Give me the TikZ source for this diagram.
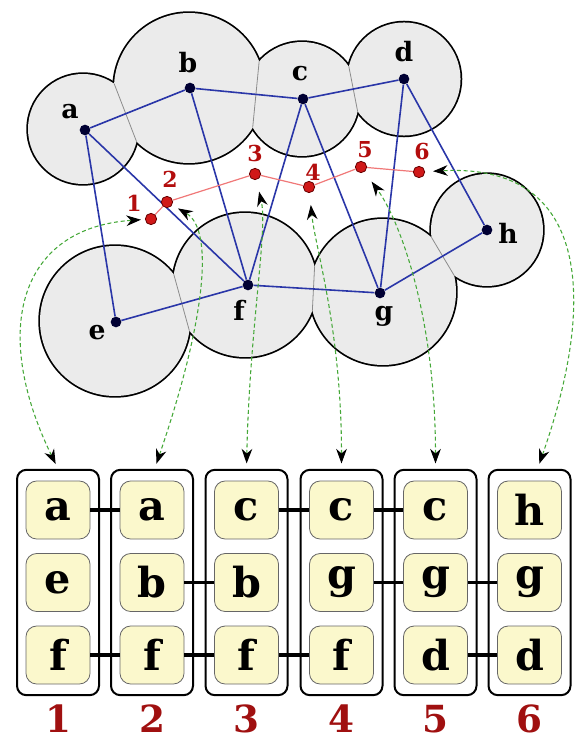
\documentclass[tikz,border=0pt]{standalone}
\usepackage{fontspec}
\setmainfont{DejaVu Serif}
\usetikzlibrary{arrows.meta,intersections}

\definecolor{diskfill}{HTML}{EBEBEB}
\definecolor{edgeblue}{HTML}{2A36A8}
\definecolor{bagred}{HTML}{D01818}
\definecolor{pathred}{HTML}{F07878}
\definecolor{numred}{HTML}{A01010}
\definecolor{linkgreen}{HTML}{45A838}
\definecolor{cellfill}{HTML}{FBF8CC}

\begin{document}
\begin{tikzpicture}[x=0.75pt,y=-0.75pt,
  >={Stealth[length=11pt,width=8pt,inset=3.5pt,color=black]},
  rim/.style={line width=2.6pt},
  disk/.style={fill=diskfill},
  seam/.style={draw=black!45,line width=0.6pt},
  vertex/.style={circle,fill=black!80!blue,inner sep=0,minimum size=8pt},
  bagpt/.style={circle,fill=bagred,draw=black!60!red,line width=0.6pt,inner sep=0,minimum size=8.5pt},
  vlabel/.style={font=\fontsize{20}{20}\selectfont\bfseries,inner sep=0},
  plabel/.style={font=\fontsize{16.5}{16.5}\selectfont\bfseries,text=numred!80!red,inner sep=0},
  gedge/.style={edgeblue,line width=1.2pt},
  tdpath/.style={pathred,line width=0.9pt},
  link/.style={linkgreen,dash pattern=on 3pt off 2pt,line width=0.8pt,<->},
  bag/.style={draw,line width=1.5pt,rounded corners=7pt,minimum width=61.5pt,minimum height=169pt,inner sep=0},
  cell/.style={draw=black!60,fill=cellfill,line width=0.6pt,rounded corners=8pt,minimum width=48pt,minimum height=43.5pt,inner sep=0,font=\fontsize{31}{31}\selectfont\bfseries},
  tie/.style={line width=2.6pt},
  bagnum/.style={font=\fontsize{28}{28}\selectfont\bfseries,text=numred,inner sep=0}
]
\useasboundingbox (0,0) rectangle (577,741);

% ---- disks: outer rims first, then the fills hide the inner halves
\draw[rim] (83,129) circle[radius=41.25pt];
\draw[rim] (189,88) circle[radius=56.25pt];
\draw[rim] (302,99) circle[radius=42.75pt];
\draw[rim] (404,79) circle[radius=42.4pt];
\draw[rim] (115,321) circle[radius=56.25pt];
\draw[rim] (245,285) circle[radius=54pt];
\draw[rim] (383,292) circle[radius=54.75pt];
\draw[rim] (487,230) circle[radius=42pt];

\fill[disk,name path=ca] (83,129) circle[radius=41.25pt];
\fill[disk,name path=cb] (189,88) circle[radius=56.25pt];
\fill[disk,name path=cc] (302,99) circle[radius=42.75pt];
\fill[disk,name path=cd] (404,79) circle[radius=42.4pt];
\fill[disk,name path=ce] (115,321) circle[radius=56.25pt];
\fill[disk,name path=cf] (245,285) circle[radius=54pt];
\fill[disk,name path=cg] (383,292) circle[radius=54.75pt];
\fill[disk,name path=ch] (487,230) circle[radius=42pt];

% seams where neighbouring disks meet
\path[name intersections={of=ca and cb,name=ab}]; \draw[seam] (ab-1) -- (ab-2);
\path[name intersections={of=cb and cc,name=bc}]; \draw[seam] (bc-1) -- (bc-2);
\path[name intersections={of=cc and cd,name=cd}]; \draw[seam] (cd-1) -- (cd-2);
\path[name intersections={of=ce and cf,name=ef}]; \draw[seam] (ef-1) -- (ef-2);
\path[name intersections={of=cf and cg,name=fg}]; \draw[seam] (fg-1) -- (fg-2);
\path[name intersections={of=cg and ch,name=gh}]; \draw[seam] (gh-1) -- (gh-2);

% ---- graph vertices
\node[vertex] (va) at (85,130) {};
\node[vertex] (vb) at (190,88) {};
\node[vertex] (vc) at (303,99) {};
\node[vertex] (vd) at (404,79) {};
\node[vertex] (ve) at (116,322) {};
\node[vertex] (vf) at (248,285) {};
\node[vertex] (vg) at (380,293) {};
\node[vertex] (vh) at (487,230) {};

\draw[gedge] (va) -- (vb);
\draw[gedge] (vb) -- (vc);
\draw[gedge] (vc) -- (vd);
\draw[gedge] (va) -- (ve);
\draw[gedge] (va) -- (vf);
\draw[gedge] (vb) -- (vf);
\draw[gedge] (vc) -- (vf);
\draw[gedge] (vc) -- (vg);
\draw[gedge] (vd) -- (vg);
\draw[gedge] (vd) -- (vh);
\draw[gedge] (ve) -- (vf);
\draw[gedge] (vf) -- (vg);
\draw[gedge] (vg) -- (vh);

\node[vlabel] (la) at (70,112) {a};
\node[vlabel] (lb) at (188,63) {b};
\node[vlabel] (lc) at (300,74) {c};
\node[vlabel] (ld) at (404,52) {d};
\node[vlabel] (le) at (97,333) {e};
\node[vlabel] (lf) at (239,310) {f};
\node[vlabel] (lg) at (384,316) {g};
\node[vlabel] (lh) at (508,233) {h};

% ---- decomposition path between the disks
\node[bagpt] (p1) at (151,219) {};
\node[bagpt] (p2) at (167,202) {};
\node[bagpt] (p3) at (255,174) {};
\node[bagpt] (p4) at (309,187) {};
\node[bagpt] (p5) at (361,167) {};
\node[bagpt] (p6) at (419,172) {};
\draw[tdpath] (p1) -- (p2) -- (p3) -- (p4) -- (p5) -- (p6);

\node[plabel] (q1) at (134,203) {1};
\node[plabel] (q2) at (170,179) {2};
\node[plabel] (q3) at (255,153) {3};
\node[plabel] (q4) at (313,172) {4};
\node[plabel] (q5) at (365,150) {5};
\node[plabel] (q6) at (422,151) {6};

% ---- bags
\foreach \i/\x in {1/58,2/152,3/246.5,4/341.5,5/435.5,6/529.5}{
  \node[bag] (B\i) at (\x,582.5) {};
  \node[bagnum] (n\i) at (\x,719) {\i};
}
\node[cell] (c1a) at (58,510) {a};
\node[cell] (c1b) at (58,582.5) {e};
\node[cell] (c1c) at (58,655) {f};
\node[cell] (c2a) at (152,510) {a};
\node[cell] (c2b) at (152,582.5) {b};
\node[cell] (c2c) at (152,655) {f};
\node[cell] (c3a) at (246.5,510) {c};
\node[cell] (c3b) at (246.5,582.5) {b};
\node[cell] (c3c) at (246.5,655) {f};
\node[cell] (c4a) at (341.5,510) {c};
\node[cell] (c4b) at (341.5,582.5) {g};
\node[cell] (c4c) at (341.5,655) {f};
\node[cell] (c5a) at (435.5,510) {c};
\node[cell] (c5b) at (435.5,582.5) {g};
\node[cell] (c5c) at (435.5,655) {d};
\node[cell] (c6a) at (529.5,510) {h};
\node[cell] (c6b) at (529.5,582.5) {g};
\node[cell] (c6c) at (529.5,655) {d};

\draw[tie] (c1a) -- (c2a);
\draw[tie] (c1c) -- (c2c);
\draw[tie] (c2b) -- (c3b);
\draw[tie] (c2c) -- (c3c);
\draw[tie] (c3a) -- (c4a);
\draw[tie] (c3c) -- (c4c);
\draw[tie] (c4a) -- (c5a);
\draw[tie] (c4b) -- (c5b);
\draw[tie] (c5b) -- (c6b);
\draw[tie] (c5c) -- (c6c);

% ---- links from each bag to its point on the path
\draw[link,shorten <=4pt,shorten >=3pt] (B1.north) .. controls +(-68,-140) and +(-131,9) .. (p1);
\draw[link,shorten <=4pt,shorten >=5pt] ([xshift=2pt]B2.north) .. controls +(50,-146) and +(48,28) .. (p2);
\draw[link,shorten <=4pt,shorten >=9pt] (B3.north) .. controls +(3,-140) and +(13,56) .. (p3);
\draw[link,shorten <=4pt,shorten >=9pt] (B4.north) .. controls +(0,-140) and +(6,60) .. (p4);
\draw[link,shorten <=4pt,shorten >=9pt] (B5.north) .. controls +(0,-150) and +(40,55) .. (p5);
\draw[link,shorten <=4pt,shorten >=6pt] ([xshift=6pt]B6.north) .. controls +(60,-170) and +(170,-9) .. (p6);
\end{tikzpicture}
\end{document}
